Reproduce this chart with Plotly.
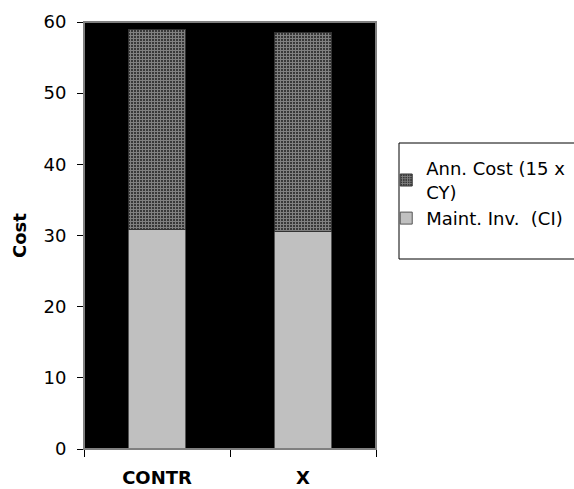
import plotly.graph_objects as go

categories = ["CONTR", "X"]
maint_inv = [30.9, 30.5]
ann_cost = [28.1, 28.0]
series_names = ["Maint. Inv.\u00a0\u00a0(CI)", "Ann. Cost (15 x<br>CY)"]
y_ticks = [0, 10, 20, 30, 40, 50, 60]

FONT = "DejaVu Sans"

fig = go.Figure()
fig.add_trace(go.Bar(
    x=categories, y=maint_inv, name=series_names[0],
    width=0.39,
    marker=dict(color="#C0C0C0", line=dict(color="#555555", width=1)),
))
fig.add_trace(go.Bar(
    x=categories, y=ann_cost, name=series_names[1],
    width=0.39,
    marker=dict(color="#000000", line=dict(color="#333333", width=1),
                pattern=dict(shape="+", fgcolor="#FFFFFF", bgcolor="#000000",
                             size=3, solidity=0.75)),
))

fig.update_layout(
    width=574, height=489,
    margin=dict(l=84, r=198, t=22, b=40, autoexpand=False),
    barmode="stack",
    paper_bgcolor="#FFFFFF",
    plot_bgcolor="#000000",
    font=dict(family=FONT, size=18, color="#000000"),
    showlegend=True,
    legend=dict(
        x=1.035, y=0.70, xanchor="left", yanchor="top",
        bgcolor="rgba(0,0,0,0)", borderwidth=0,
        font=dict(family=FONT, size=18, color="#000000"),
        traceorder="reversed", tracegroupgap=4,
    ),
    xaxis=dict(
        type="category", range=[-0.5, 1.5],
        showline=True, linecolor="#000000", linewidth=1,
        ticks="outside", ticklen=7, tickcolor="#000000", tickson="boundaries",
        tickfont=dict(family=FONT, size=18, color="#000000"),
        ticklabelstandoff=12,
        showgrid=False, zeroline=False,
        tickprefix="<b>", ticksuffix="</b>",
    ),
    yaxis=dict(
        range=[0, 60], tickvals=y_ticks,
        showline=True, linecolor="#000000", linewidth=1,
        ticks="outside", ticklen=6, tickcolor="#000000",
        tickfont=dict(family=FONT, size=18, color="#000000"),
        ticklabelstandoff=7,
        showgrid=False, zeroline=False,
        title=dict(text="<b>Cost</b>", font=dict(family=FONT, size=18), standoff=12),
    ),
    shapes=[
        dict(type="rect", xref="paper", yref="paper", x0=0, x1=1, y0=0, y1=1,
             line=dict(color="#808080", width=2), layer="above"),
        dict(type="rect", xref="paper", yref="paper",
             x0=(399 - 84) / 292, x1=(590 - 84) / 292,
             y0=(449 - 259) / 427, y1=(449 - 143) / 427,
             line=dict(color="#000000", width=1), layer="below"),
    ],
)

fig.write_html("out.html")
